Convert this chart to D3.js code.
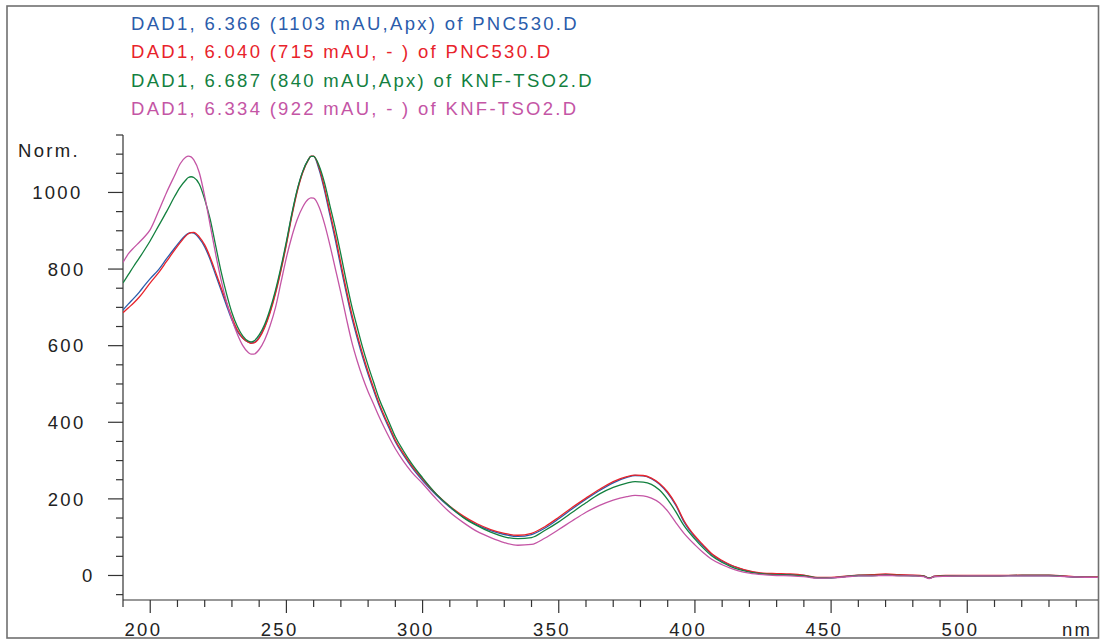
<!DOCTYPE html>
<html>
<head>
<meta charset="utf-8">
<script src="https://cdn.jsdelivr.net/npm/d3@7"></script>
<style>
  html, body { margin: 0; padding: 0; background: #fff; }
  svg { display: block; }
  text { font-family: "Liberation Sans", Arial, Helvetica, sans-serif; font-size: 18.5px; letter-spacing: 2.3px; }
</style>
</head>
<body>
<svg id="chart" width="1101" height="640"></svg>
<script>
// Wavelength grid (nm) shared by all four spectra
const wavelengths = [
  190, 192, 194, 196, 198, 200, 203, 206, 209, 211, 213, 214, 215, 216, 218, 220, 222, 224, 226, 228,
  230, 232, 234, 236, 237, 238, 240, 242, 244, 246, 248, 250, 252, 254, 256, 258, 259, 260, 262, 264,
  266, 268, 270, 272, 274, 276, 278, 280, 282, 284, 286, 288, 290, 293, 296, 300, 305, 310, 315, 320,
  325, 330, 335, 340, 345, 350, 355, 360, 365, 370, 375, 378, 381, 384, 387, 390, 393, 396, 400, 403,
  406, 410, 413, 416, 420, 425, 430, 435, 440, 445, 450, 455, 460, 465, 470, 475, 480, 484, 486, 488,
  492, 500, 510, 520, 530, 540, 548
];

// Normalised absorbance, PNC530.D at 6.366 min (apex)
const pnc530Apex = [
  693, 709, 724, 740, 758, 775, 798, 827, 855, 873, 888, 893, 895, 894, 880, 858, 825, 785, 745, 705,
  667, 637, 619, 609, 607, 608, 622, 650, 690, 740, 800, 868, 942, 1006, 1054, 1085, 1094, 1094, 1060, 1005,
  940, 875, 805, 737, 674, 620, 570, 525, 484, 445, 411, 380, 349, 314, 283, 248, 210, 178, 152, 132,
  117, 107, 102, 107, 124, 148, 174, 199, 222, 242, 256, 261, 260, 253, 238, 215, 183, 140, 100, 77,
  56, 37, 27, 19, 11, 5, 3, 2, 0, -6, -6, -3, 0, 0, 2, 1, 0, -2, -7, -2,
  -1, -1, -1, 0, 0, -4, -5
];

// PNC530.D at 6.040 min
const pnc530Front = [
  686, 699, 712, 727, 745, 764, 790, 820, 850, 869, 886, 892, 895, 896, 884, 863, 831, 792, 752, 712,
  673, 641, 620, 609, 606, 607, 620, 647, 686, 736, 796, 864, 938, 1003, 1052, 1084, 1095, 1095, 1065, 1012,
  948, 885, 815, 746, 683, 628, 578, 532, 490, 450, 416, 385, 353, 318, 287, 252, 213, 181, 155, 135,
  120, 110, 105, 110, 128, 152, 178, 202, 225, 245, 258, 262, 261, 254, 240, 218, 186, 143, 103, 80,
  58, 39, 28, 20, 12, 6, 5, 4, 1, -5, -5, -2, 1, 2, 4, 2, 1, -1, -7, -2,
  0, 0, 0, 1, 1, -3, -4
];

// KNF-TSO2.D at 6.687 min (apex)
const knfApex = [
  764, 786, 808, 829, 851, 874, 912, 950, 990, 1014, 1032, 1039, 1041, 1039, 1022, 982, 930, 862, 794, 736,
  686, 650, 625, 612, 610, 612, 628, 655, 695, 745, 805, 872, 945, 1008, 1055, 1085, 1094, 1094, 1070, 1025,
  965, 905, 838, 768, 703, 648, 595, 548, 505, 462, 428, 395, 362, 325, 292, 255, 213, 180, 151, 130,
  113, 101, 96, 99, 118, 140, 165, 190, 213, 230, 241, 245, 244, 238, 223, 198, 166, 130, 95, 72,
  52, 34, 24, 16, 9, 4, 2, 1, -1, -6, -6, -3, 0, 0, 1, 0, -1, -2, -7, -3,
  -1, -1, -1, 0, 0, -4, -5
];

// KNF-TSO2.D at 6.334 min
const knfFront = [
  817, 840, 856, 870, 885, 903, 950, 1000, 1045, 1075, 1092, 1095, 1093, 1085, 1052, 990, 915, 840, 772, 715,
  668, 630, 600, 582, 578, 578, 590, 615, 652, 700, 765, 830, 885, 930, 962, 982, 986, 985, 962, 918,
  862, 800, 738, 672, 610, 560, 517, 480, 448, 415, 385, 357, 331, 298, 270, 240, 200, 165, 138, 115,
  99, 86, 79, 81, 98, 120, 143, 165, 183, 197, 206, 209, 208, 202, 190, 168, 138, 110, 80, 60,
  43, 28, 19, 12, 6, 2, 0, -1, -3, -7, -6, -4, -1, -1, 0, -1, -1, -3, -8, -3,
  -2, -1, -1, -1, -1, -4, -5
];

const legendLabels = [
  "DAD1, 6.366 (1103 mAU,Apx) of PNC530.D",
  "DAD1, 6.040 (715 mAU, - ) of PNC530.D",
  "DAD1, 6.687 (840 mAU,Apx) of KNF-TSO2.D",
  "DAD1, 6.334 (922 mAU, - ) of KNF-TSO2.D"
];
const seriesColors = ["#2b5cab", "#e8232b", "#13803f", "#c455a5"];
const seriesValues = [pnc530Apex, pnc530Front, knfApex, knfFront];

const yMajorTicks = [0, 200, 400, 600, 800, 1000];
const xMajorTicks = [200, 250, 300, 350, 400, 450, 500];
const yTitle = "Norm.";
const xTitle = "nm";

// ---- layout ----
const svg = d3.select("#chart");
const plot = { left: 123, right: 1098, top: 135, bottom: 600 };

const x = d3.scaleLinear().domain([190, 548]).range([plot.left, plot.right]);
const y = d3.scaleLinear().domain([-64, 1150]).range([plot.bottom, plot.top]);

const ink = "#333";

// outer frame
svg.append("rect")
  .attr("x", 7).attr("y", 6).attr("width", 1091.5).attr("height", 632)
  .attr("fill", "none").attr("stroke", "#707070").attr("stroke-width", 1.6);

// legend
svg.append("g").selectAll("text")
  .data(legendLabels)
  .join("text")
  .attr("x", 131)
  .attr("y", (d, i) => 30 + i * 28.4)
  .attr("fill", (d, i) => seriesColors[i])
  .attr("xml:space", "preserve")
  .text(d => d);

// y axis
const yAxis = svg.append("g").attr("stroke", ink).attr("stroke-width", 1.2);
yAxis.append("line")
  .attr("x1", plot.left).attr("x2", plot.left)
  .attr("y1", plot.top).attr("y2", plot.bottom);
yAxis.selectAll("line.minor")
  .data(d3.range(-50, 1151, 50).filter(v => !yMajorTicks.includes(v)))
  .join("line").attr("class", "minor")
  .attr("x1", plot.left - 7).attr("x2", plot.left)
  .attr("y1", d => y(d)).attr("y2", d => y(d));
yAxis.selectAll("line.major")
  .data(yMajorTicks)
  .join("line").attr("class", "major")
  .attr("x1", plot.left - 15).attr("x2", plot.left)
  .attr("y1", d => y(d)).attr("y2", d => y(d));

svg.append("g").selectAll("text")
  .data(yMajorTicks)
  .join("text")
  .attr("x", d => (d === 0 ? 94.5 : d >= 1000 ? 82.5 : 85.5))
  .attr("y", d => y(d))
  .attr("dy", "0.36em")
  .attr("text-anchor", "end")
  .attr("fill", "#222")
  .text(d => d);

svg.append("text")
  .attr("x", 18).attr("y", 157)
  .attr("fill", "#222")
  .text(yTitle);

// x axis
const xAxis = svg.append("g").attr("stroke", ink).attr("stroke-width", 1.2);
xAxis.append("line")
  .attr("x1", plot.left).attr("x2", plot.right)
  .attr("y1", plot.bottom).attr("y2", plot.bottom);
xAxis.selectAll("line.minor")
  .data(d3.range(190, 541, 10).filter(v => !xMajorTicks.includes(v)))
  .join("line").attr("class", "minor")
  .attr("x1", d => x(d)).attr("x2", d => x(d))
  .attr("y1", plot.bottom).attr("y2", plot.bottom + 7);
xAxis.selectAll("line.major")
  .data(xMajorTicks)
  .join("line").attr("class", "major")
  .attr("x1", d => x(d)).attr("x2", d => x(d))
  .attr("y1", plot.bottom).attr("y2", plot.bottom + 13);

svg.append("g").selectAll("text")
  .data(xMajorTicks)
  .join("text")
  .attr("x", d => x(d) - 6.8)
  .attr("y", 636)
  .attr("text-anchor", "middle")
  .attr("fill", "#222")
  .text(d => d);

svg.append("text")
  .attr("x", 1062).attr("y", 636)
  .attr("fill", "#222")
  .text(xTitle);

// spectra
svg.append("clipPath").attr("id", "plot-clip")
  .append("rect")
  .attr("x", plot.left).attr("y", plot.top - 10)
  .attr("width", plot.right - plot.left).attr("height", plot.bottom - plot.top + 10);

const line = d3.line()
  .x(d => x(d[0]))
  .y(d => y(d[1]))
  .curve(d3.curveMonotoneX);

svg.append("g").attr("clip-path", "url(#plot-clip)")
  .selectAll("path")
  .data(seriesValues)
  .join("path")
  .attr("fill", "none")
  .attr("stroke", (d, i) => seriesColors[i])
  .attr("stroke-width", 1.3)
  .attr("stroke-linejoin", "round")
  .attr("d", vals => line(wavelengths.map((w, k) => [w, vals[k]])));
</script>
</body>
</html>
